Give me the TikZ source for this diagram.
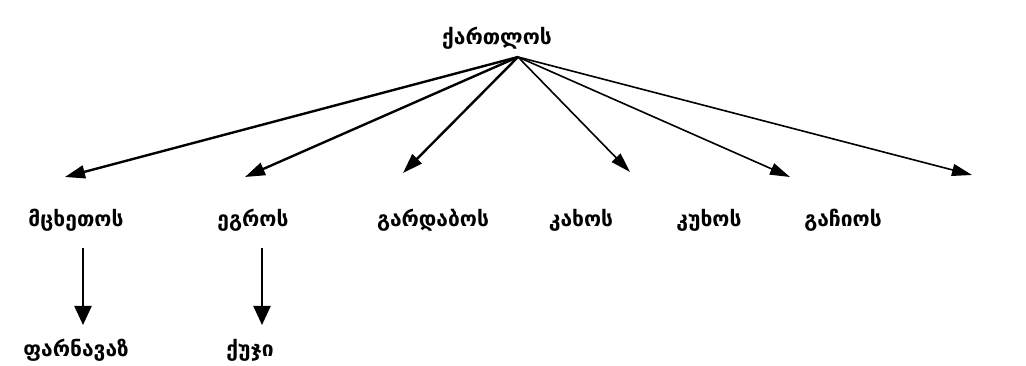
\documentclass[tikz,border=0pt]{standalone}
\usepackage{fontspec}
\setmainfont{DejaVu Sans}
\usetikzlibrary{arrows.meta}
\begin{document}
\begin{tikzpicture}[x=1pt,y=-1pt,
  lbl/.style={anchor=base,inner sep=0pt,font=\fontsize{21}{23}\selectfont\bfseries},
  toplbl/.style={anchor=base,inner sep=0pt,font=\fontsize{21}{23}\selectfont\bfseries},
  thickarr/.style={line width=2.4pt,-{Triangle[length=20pt,width=13pt]}},
  thinarr/.style={line width=1.6pt,-{Triangle[length=20pt,width=12pt]}},
  downarr/.style={line width=2.3pt,-{Triangle[length=19pt,width=17pt]}}]
\useasboundingbox (0,0) rectangle (1026,366);
\node[toplbl] (top) at (497,45) {ქართლოს};
\node[lbl] (m1) at (76,227) {მცხეთოს};
\node[lbl] (m2) at (253,227) {ეგროს};
\node[lbl] (m3) at (433,227) {გარდაბოს};
\node[lbl] (m4) at (581,227) {კახოს};
\node[lbl] (m5) at (709,227) {კუხოს};
\node[lbl] (m6) at (843,227) {გაჩიოს};
\node[lbl] (b1) at (76,356) {ფარნავაზ};
\node[lbl] (b2) at (250,356) {ქუჯი};
\coordinate (src) at (518,57);
\coordinate (t1) at (65,177);
\coordinate (t2) at (245,177);
\coordinate (t3) at (403,173);
\coordinate (t4) at (630,172);
\coordinate (t5) at (790,177);
\coordinate (t6) at (972,175);
\coordinate (d1s) at (83,248);
\coordinate (d1e) at (83,325);
\coordinate (d2s) at (262,248);
\coordinate (d2e) at (262,325);
\draw[thickarr] (src) -- (t1);
\draw[thickarr] (src) -- (t2);
\draw[thickarr] (src) -- (t3);
\draw[thinarr] (src) -- (t4);
\draw[thinarr] (src) -- (t5);
\draw[thinarr] (src) -- (t6);
\draw[downarr] (d1s) -- (d1e);
\draw[downarr] (d2s) -- (d2e);
\end{tikzpicture}
\end{document}
